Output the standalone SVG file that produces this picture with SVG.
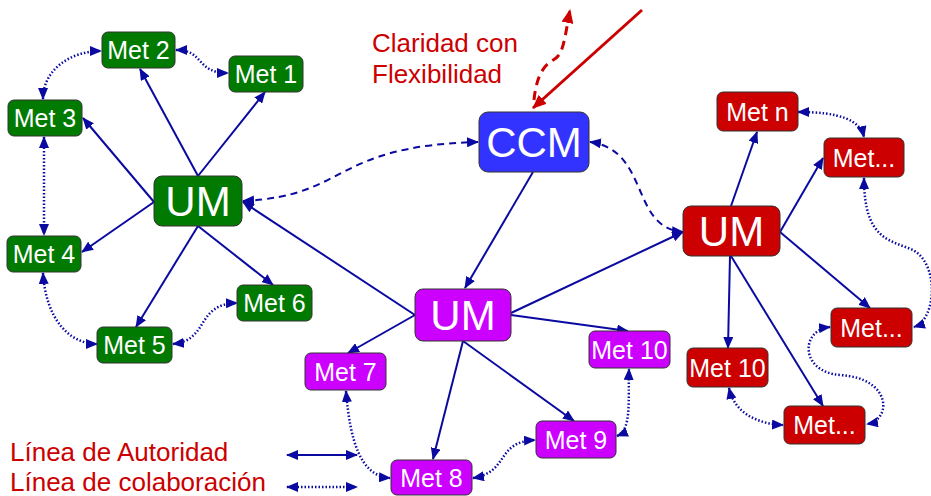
<svg xmlns="http://www.w3.org/2000/svg" width="931" height="496" viewBox="0 0 931 496">
<style>
.box{stroke:#333;stroke-width:1}
.g{fill:#007A00}.r{fill:#CC0000}.m{fill:#CC00FF}.b{fill:#3333FF}
.t{fill:#fff;font-family:"Liberation Sans",Arial,sans-serif;text-anchor:middle}
.s{font-size:25px}.L{font-size:42px}
.auth{fill:none;stroke:#0A0AA0;stroke-width:2;marker-end:url(#ah)}
.dot{fill:none;stroke:#0A0AA0;stroke-width:2.5;stroke-dasharray:1.5 2;marker-start:url(#ah);marker-end:url(#ah)}
.dash{fill:none;stroke:#0A0AA0;stroke-width:2;stroke-dasharray:7 5;marker-start:url(#ah);marker-end:url(#ah)}
.lbl{fill:#CC0000;font-family:"Liberation Sans",Arial,sans-serif;font-size:26px}
</style>
<defs>
<marker id="ah" markerUnits="userSpaceOnUse" markerWidth="12" markerHeight="10" refX="11" refY="5" orient="auto-start-reverse"><path d="M0,0 L12,5 L0,10 Z" fill="#0A0AA0"/></marker>
<marker id="rh" markerUnits="userSpaceOnUse" markerWidth="14" markerHeight="12" refX="13" refY="6" orient="auto-start-reverse"><path d="M0,0 L14,6 L0,12 Z" fill="#CC0000"/></marker>
</defs>
<g id="connectors">
<line class="auth" x1="198" y1="176" x2="140" y2="69"/>
<line class="auth" x1="198" y1="176" x2="265" y2="92"/>
<line class="auth" x1="154" y1="202" x2="83" y2="118"/>
<line class="auth" x1="154" y1="202" x2="82" y2="252"/>
<line class="auth" x1="198" y1="226" x2="136" y2="327"/>
<line class="auth" x1="198" y1="226" x2="273" y2="285"/>
<line class="auth" x1="415" y1="315" x2="243" y2="202"/>
<line class="auth" x1="533" y1="172" x2="465" y2="288"/>
<line class="auth" x1="511" y1="313" x2="683" y2="232"/>
<line class="auth" x1="415" y1="315" x2="348" y2="353"/>
<line class="auth" x1="463" y1="341" x2="433" y2="459"/>
<line class="auth" x1="463" y1="341" x2="574" y2="421"/>
<line class="auth" x1="511" y1="315" x2="628" y2="331"/>
<line class="auth" x1="731" y1="206" x2="757" y2="132"/>
<line class="auth" x1="780" y1="232" x2="823" y2="158"/>
<line class="auth" x1="780" y1="232" x2="870" y2="308"/>
<line class="auth" x1="730" y1="256" x2="728" y2="348"/>
<line class="auth" x1="731" y1="256" x2="823" y2="406"/>
<path class="dash" d="M243,201 C350,196 330,146 478,142"/>
<path class="dash" d="M590,142 C650,150 630,228 683,232"/>
<path class="dot" d="M43,99 C43,70 70,51 101,51"/>
<path class="dot" d="M176,50 C205,50 195,73 228,73"/>
<path class="dot" d="M44,137 L44,235"/>
<path class="dot" d="M43,273 C46,320 70,344 97,344"/>
<path class="dot" d="M173,344 C210,340 195,304 237,303"/>
<path class="dot" d="M346,391 C350,440 360,476 390,478"/>
<path class="dot" d="M473,478 C510,472 495,442 535,440"/>
<path class="dot" d="M617,436 C632,430 628,400 629,369"/>
<path class="dot" d="M798,112 C840,112 860,120 864,137"/>
<path class="dot" d="M864,178 C864,240 890,240 913,250 C940,265 936,320 914,327"/>
<path class="dot" d="M830,327 C800,330 800,372 840,375 C892,378 892,420 867,424"/>
<path class="dot" d="M729,388 C735,415 760,424 783,425"/>
<line x1="642" y1="10" x2="533" y2="108" stroke="#CC0000" stroke-width="3" marker-end="url(#rh)"/>
<path d="M534,100 C538,60 555,62 558,56 C564,50 566,30 570,10" fill="none" stroke="#CC0000" stroke-width="3" stroke-dasharray="9 6" marker-end="url(#rh)"/>
<line class="auth" x1="287" y1="455" x2="357" y2="455" style="marker-start:url(#ah)"/>
<line class="dot" x1="287" y1="487" x2="357" y2="487"/>
</g>
<g id="met2"><rect class="box g" x="102" y="32" width="73" height="36" rx="6"/><text class="t s" x="138.5" y="59">Met 2</text></g>
<g id="met1"><rect class="box g" x="229" y="56" width="74" height="36" rx="6"/><text class="t s" x="266" y="83">Met 1</text></g>
<g id="met3"><rect class="box g" x="8" y="100" width="74" height="36" rx="6"/><text class="t s" x="45" y="127">Met 3</text></g>
<g id="umG"><rect class="box g" x="154" y="176" width="88" height="50" rx="8"/><text class="t L" x="198" y="216">UM</text></g>
<g id="met4"><rect class="box g" x="7" y="236" width="74" height="36" rx="6"/><text class="t s" x="44" y="263">Met 4</text></g>
<g id="met5"><rect class="box g" x="97" y="327" width="75" height="36" rx="6"/><text class="t s" x="134.5" y="354">Met 5</text></g>
<g id="met6"><rect class="box g" x="237" y="285" width="75" height="36" rx="6"/><text class="t s" x="274.5" y="312">Met 6</text></g>
<g id="ccm"><rect class="box b" x="479" y="112" width="110" height="60" rx="9"/><text class="t L" x="534" y="157">CCM</text></g>
<g id="umM"><rect class="box m" x="415" y="289" width="96" height="52" rx="8"/><text class="t L" x="463" y="330">UM</text></g>
<g id="met7"><rect class="box m" x="305" y="353" width="81" height="37" rx="6"/><text class="t s" x="345.5" y="380.5">Met 7</text></g>
<g id="met10m"><rect class="box m" x="589" y="331" width="81" height="37" rx="6"/><text class="t s" x="629.5" y="358.5">Met 10</text></g>
<g id="met9"><rect class="box m" x="536" y="421" width="80" height="37" rx="6"/><text class="t s" x="576" y="448.5">Met 9</text></g>
<g id="met8"><rect class="box m" x="391" y="460" width="81" height="35" rx="6"/><text class="t s" x="431.5" y="487">Met 8</text></g>
<g id="metn"><rect class="box r" x="717" y="92" width="81" height="39" rx="6"/><text class="t s" x="757.5" y="120.5">Met n</text></g>
<g id="metT"><rect class="box r" x="824" y="138" width="80" height="39" rx="6"/><text class="t s" x="864" y="166.5">Met...</text></g>
<g id="umR"><rect class="box r" x="683" y="206" width="97" height="50" rx="8"/><text class="t L" x="731.5" y="246">UM</text></g>
<g id="metM"><rect class="box r" x="831" y="308" width="81" height="39" rx="6"/><text class="t s" x="871.5" y="336.5">Met...</text></g>
<g id="met10r"><rect class="box r" x="687" y="348" width="81" height="39" rx="6"/><text class="t s" x="727.5" y="376.5">Met 10</text></g>
<g id="metB"><rect class="box r" x="784" y="406" width="81" height="38" rx="6"/><text class="t s" x="824.5" y="434">Met...</text></g>
<g id="labels">
<text class="lbl" x="372" y="52">Claridad con</text>
<text class="lbl" x="372" y="83">Flexibilidad</text>
<text class="lbl" x="10" y="461">Línea de Autoridad</text>
<text class="lbl" x="10" y="491">Línea de colaboración</text>
</g>
</svg>
